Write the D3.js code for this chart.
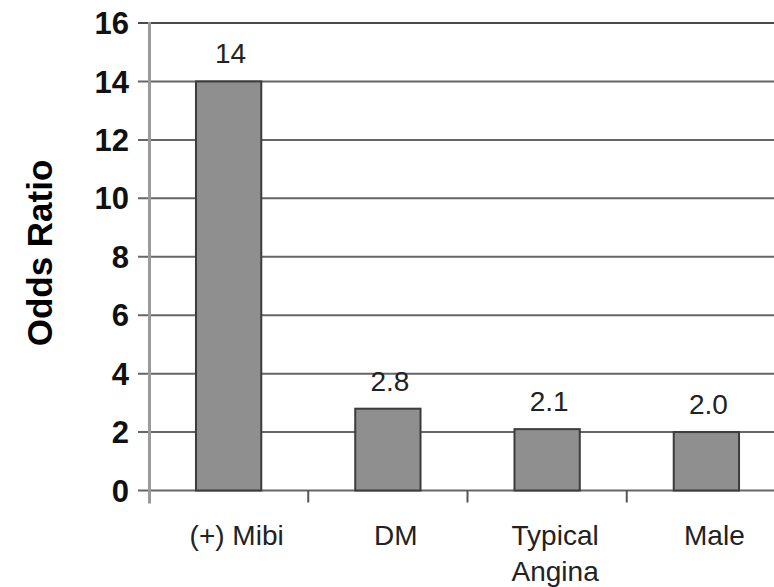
<!DOCTYPE html>
<html>
<head>
<meta charset="utf-8">
<script src="https://cdn.jsdelivr.net/npm/d3@7"></script>
<style>
  html, body { margin: 0; padding: 0; background: #fff; }
  svg { display: block; font-family: "Liberation Sans", Arial, sans-serif; }
</style>
</head>
<body>
<svg id="chart" width="774" height="587"></svg>
<script>
// Odds ratios by predictor
const categories = ["(+) Mibi", "DM", "Typical Angina", "Male"];
const oddsRatios = [14, 2.8, 2.1, 2.0];
const valueLabels = ["14", "2.8", "2.1", "2.0"];
const yTicks = [0, 2, 4, 6, 8, 10, 12, 14, 16];
const yTitle = "Odds Ratio";

const svg = d3.select("#chart");

const x = d3.scaleBand()
  .domain(categories)
  .range([149, 786])
  .paddingInner(0.59)
  .paddingOuter(0.295);

const y = d3.scaleLinear()
  .domain([0, 16])
  .range([490.5, 23]);

// horizontal grid lines (with outward tick stubs on the left)
svg.append("g")
  .selectAll("line")
  .data(yTicks)
  .join("line")
  .attr("x1", 138)
  .attr("x2", 774)
  .attr("y1", d => y(d))
  .attr("y2", d => y(d))
  .attr("stroke", d => d === 16 ? "#4a4a4a" : "#666")
  .attr("stroke-width", 2);

// category separator ticks below the baseline
const bandStep = x.step();
const boundaries = categories.map((c, i) => x.range()[0] + i * bandStep);
svg.append("g")
  .selectAll("line")
  .data(boundaries.slice(1))
  .join("line")
  .attr("x1", d => d)
  .attr("x2", d => d)
  .attr("y1", y(0))
  .attr("y2", y(0) + 12)
  .attr("stroke", "#555")
  .attr("stroke-width", 2);

// y axis line
svg.append("line")
  .attr("x1", 149.5).attr("x2", 149.5)
  .attr("y1", y(16) - 1).attr("y2", y(0) + 13)
  .attr("stroke", "#9a9a9a")
  .attr("stroke-width", 3);

// y tick labels
svg.append("g")
  .selectAll("text")
  .data(yTicks)
  .join("text")
  .attr("x", 129)
  .attr("y", d => y(d))
  .attr("dy", "0.36em")
  .attr("text-anchor", "end")
  .attr("font-size", 31)
  .attr("font-weight", "bold")
  .attr("fill", "#111")
  .text(d => d);

// bars
svg.append("g")
  .selectAll("rect")
  .data(categories)
  .join("rect")
  .attr("x", d => x(d))
  .attr("y", (d, i) => y(oddsRatios[i]))
  .attr("width", x.bandwidth())
  .attr("height", (d, i) => y(0) - y(oddsRatios[i]))
  .attr("fill", "#8f8f8f")
  .attr("stroke", "#3c3c3c")
  .attr("stroke-width", 2);

// value labels
svg.append("g")
  .selectAll("text")
  .data(categories)
  .join("text")
  .attr("x", d => x(d) + x.bandwidth() / 2 + 2)
  .attr("y", (d, i) => y(oddsRatios[i]) - 18)
  .attr("text-anchor", "middle")
  .attr("font-size", 28)
  .attr("fill", "#222")
  .text((d, i) => valueLabels[i]);

// category labels (two-word names wrap onto a second line)
const catLabels = svg.append("g")
  .selectAll("text")
  .data(categories)
  .join("text")
  .attr("x", d => x(d) + x.bandwidth() / 2 + 8)
  .attr("y", 545)
  .attr("text-anchor", "middle")
  .attr("font-size", 28)
  .attr("fill", "#222");

catLabels.each(function(d) {
  const t = d3.select(this);
  const parts = d.startsWith("(") ? [d] : d.split(" ");
  parts.forEach((p, k) => {
    t.append("tspan")
      .attr("x", x(d) + x.bandwidth() / 2 + 8)
      .attr("dy", k === 0 ? 0 : 36)
      .text(p);
  });
});

// y axis title
svg.append("text")
  .attr("transform", "translate(52,253) rotate(-90)")
  .attr("text-anchor", "middle")
  .attr("font-size", 35)
  .attr("font-weight", "bold")
  .attr("fill", "#000")
  .text(yTitle);
</script>
</body>
</html>
